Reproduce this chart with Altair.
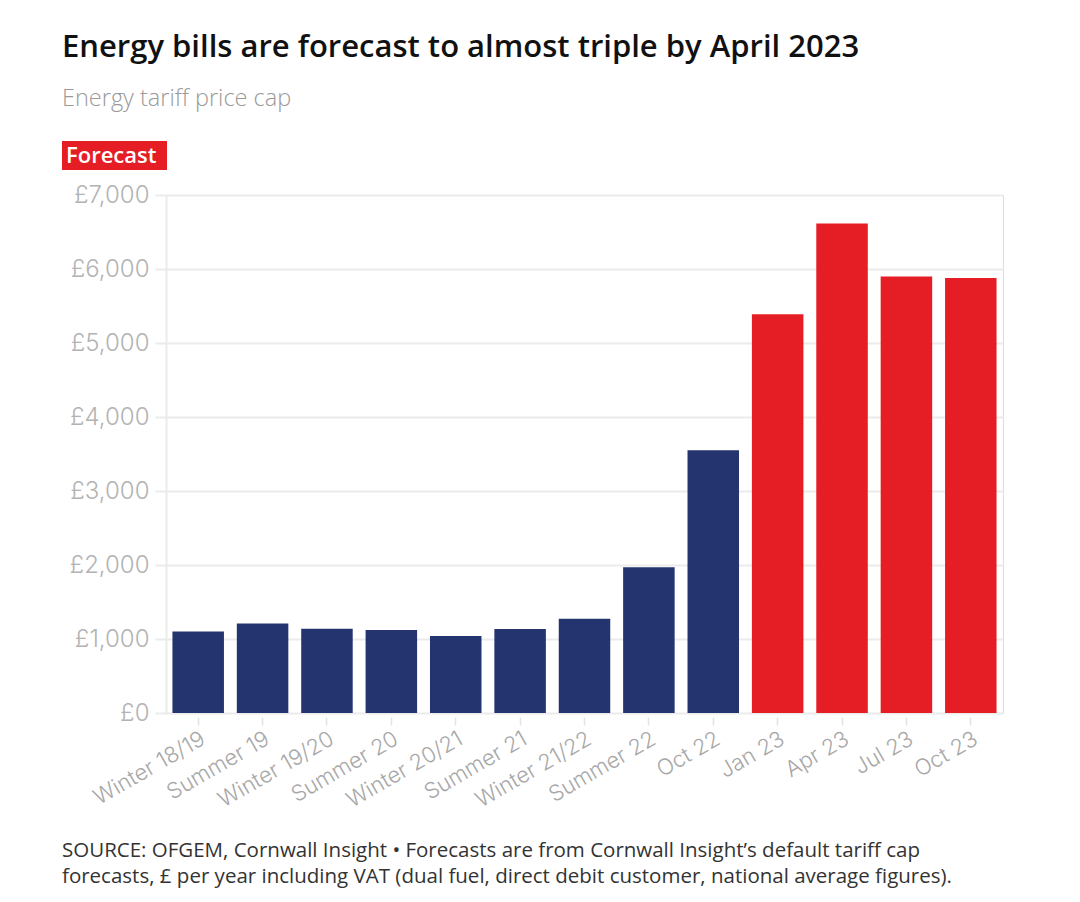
import altair as alt
import pandas as pd

periods = ["Winter 18/19", "Summer 19", "Winter 19/20", "Summer 20", "Winter 20/21",
           "Summer 21", "Winter 21/22", "Summer 22", "Oct 22", "Jan 23", "Apr 23",
           "Jul 23", "Oct 23"]
price_cap = [1100, 1210, 1140, 1120, 1040, 1135, 1275, 1970, 3550, 5390, 6615, 5900, 5880]
status = ["Actual"] * 9 + ["Forecast"] * 4
y_ticks = [0, 1000, 2000, 3000, 4000, 5000, 6000, 7000]

title_text = "Energy bills are forecast to almost triple by April 2023"
subtitle_text = "Energy tariff price cap"
forecast_label = "Forecast"
footer_lines = [
    "SOURCE: OFGEM, Cornwall Insight \u2022 Forecasts are from Cornwall Insight\u2019s default tariff cap",
    "forecasts, \u00a3 per year including VAT (dual fuel, direct debit customer, national average figures).",
]

NAVY = "#24346f"
RED = "#e51d25"
GRID = "#ebebeb"

df = pd.DataFrame({"period": periods, "value": price_cap, "status": status})

bars = alt.Chart(df).mark_bar().encode(
    x=alt.X(
        "period:N", sort=periods,
        scale=alt.Scale(paddingInner=0.2, paddingOuter=0.1),
        axis=alt.Axis(title=None, labelAngle=-30, labelFont="Inter", labelFontSize=22,
                      labelFontWeight=300, labelAlign="right", labelBaseline="top",
                      labelColor="#a8a8a8", tickColor="#e3e3e3", tickSize=8, tickWidth=1.5,
                      offset=4, domain=False, grid=False, labelPadding=3),
    ),
    y=alt.Y(
        "value:Q",
        scale=alt.Scale(domain=[0, 7000], nice=False),
        axis=alt.Axis(title=None, values=y_ticks,
                      labelExpr="'\u00a3' + format(datum.value, ',')",
                      grid=True, gridColor=GRID, gridWidth=2,
                      domainColor=GRID, domainWidth=2,
                      tickColor=GRID, tickSize=11, tickWidth=2,
                      labelFont="Inter", labelFontSize=24, labelFontWeight=300,
                      labelColor="#b3b3b3", labelPadding=6),
    ),
    color=alt.Color("status:N",
                    scale=alt.Scale(domain=["Actual", "Forecast"], range=[NAVY, RED]),
                    legend=None),
)

one = alt.Data(values=[{}])

badge = alt.Chart(one).mark_rect(color=RED).encode(
    x=alt.value(-104), x2=alt.value(1), y=alt.value(-54), y2=alt.value(-25)
)
badge_text = alt.Chart(one).mark_text(
    text=forecast_label, align="left", baseline="alphabetic", font="Open Sans",
    fontSize=22, fontWeight=600, color="white"
).encode(x=alt.value(-100), y=alt.value(-32))

footer = alt.Chart(one).mark_text(
    text=footer_lines, align="left", baseline="alphabetic", font="Open Sans",
    fontSize=20.5, lineHeight=26, color="#333333"
).encode(x=alt.value(-104), y=alt.value(662))

chart = alt.layer(bars, badge, badge_text, footer).properties(
    width=837, height=518,
    padding={"left": 158, "top": 187, "right": 60, "bottom": 180},
    autosize=alt.AutoSizeParams(type="none"),
    title=alt.TitleParams(
        text=title_text, subtitle=subtitle_text, anchor="start",
        font="Open Sans", fontSize=31, fontWeight=600, color="#111111",
        subtitleFont="Open Sans", subtitleFontSize=23.5, subtitleFontWeight=300,
        subtitleColor="#9a9a9a",
        subtitlePadding=23, offset=30,
    ),
).configure_view(stroke=None).configure(background="white")

chart.save("out.html", embed_options={"renderer": "svg", "actions": False})
